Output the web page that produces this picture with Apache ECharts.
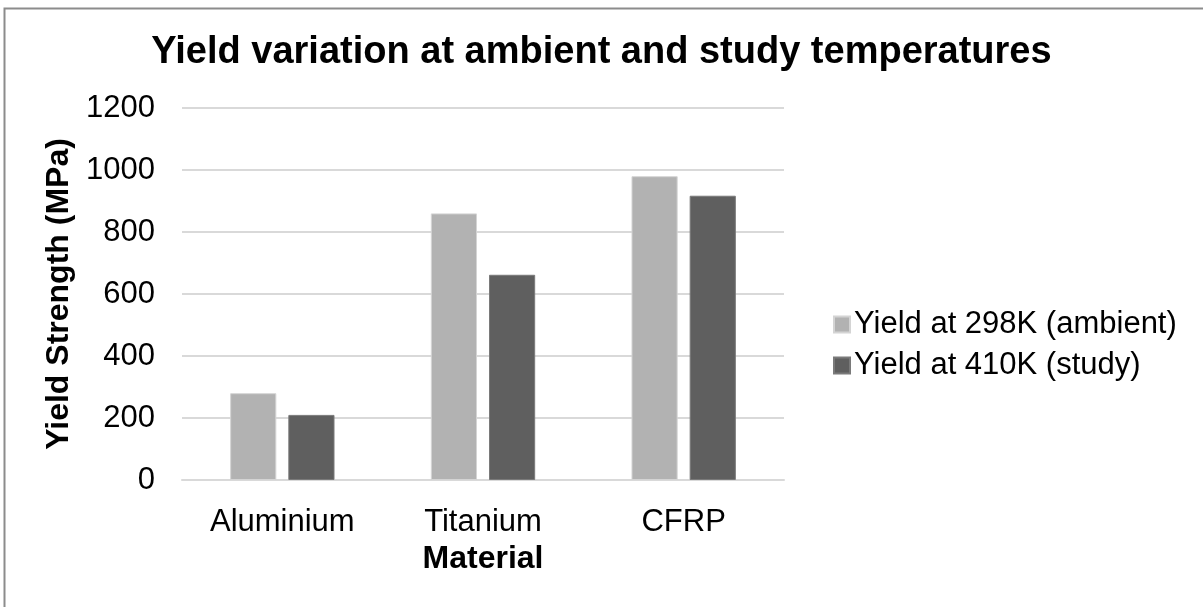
<!DOCTYPE html>
<html>
<head>
<meta charset="utf-8">
<script src="https://cdn.jsdelivr.net/npm/echarts@6/dist/echarts.min.js"></script>
<style>
  html, body { margin: 0; padding: 0; background: #fff; }
  #chart { width: 1203px; height: 607px; }
</style>
</head>
<body>
<div id="chart"></div>
<script>
// Materials on the x axis
const materials = ['Aluminium', 'Titanium', 'CFRP'];
// Yield strength (MPa) per material
const yieldAmbient = [280, 860, 980];
const yieldStudy = [210, 662, 917];
const seriesNames = ['Yield at 298K (ambient)', 'Yield at 410K (study)'];
const yTicks = { min: 0, max: 1200, interval: 200 };

const FONT = '"Liberation Sans", Arial, sans-serif';

const chart = echarts.init(document.getElementById('chart'), null, { renderer: 'canvas' });

chart.setOption({
  backgroundColor: '#ffffff',
  animation: false,
  graphic: [{
    type: 'rect',
    shape: { x: 4.5, y: 8.5, width: 1300, height: 700 },
    style: { fill: 'none', stroke: '#8c8c8c', lineWidth: 2 },
    silent: true
  }],
  title: {
    text: 'Yield variation at ambient and study temperatures',
    left: 'center',
    top: 29,
    textStyle: { fontFamily: FONT, fontSize: 38, fontWeight: 'bold', color: '#000' }
  },
  legend: {
    orient: 'vertical',
    left: 828,
    top: 304,
    itemWidth: 16,
    itemHeight: 16,
    itemGap: 10,
    icon: 'rect',
    textStyle: { fontFamily: FONT, fontSize: 31, color: '#000', padding: [0, 0, 0, -1] },
    data: seriesNames
  },
  grid: { left: 182, right: 419, top: 108, bottom: 127, containLabel: false },
  xAxis: {
    type: 'category',
    data: materials,
    name: 'Material',
    nameLocation: 'middle',
    nameGap: 63,
    nameTextStyle: { fontFamily: FONT, fontSize: 32, fontWeight: 'bold', color: '#000' },
    axisLine: { lineStyle: { color: '#d9d9d9', width: 2 } },
    axisTick: { show: false },
    axisLabel: { fontFamily: FONT, fontSize: 31, color: '#000', margin: 27 }
  },
  yAxis: {
    type: 'value',
    min: yTicks.min,
    max: yTicks.max,
    interval: yTicks.interval,
    name: 'Yield Strength (MPa)',
    nameLocation: 'middle',
    nameGap: 106,
    nameTextStyle: { fontFamily: FONT, fontSize: 32, fontWeight: 'bold', color: '#000' },
    axisLine: { show: false },
    axisTick: { show: false },
    axisLabel: {
      fontFamily: FONT, fontSize: 31, color: '#000', margin: 27,
      formatter: v => String(v)
    },
    splitLine: { lineStyle: { color: '#d9d9d9', width: 2 } }
  },
  series: [
    {
      name: seriesNames[0],
      type: 'bar',
      data: yieldAmbient,
      barGap: '26%',
      barCategoryGap: '48%',
      itemStyle: { color: '#b2b2b2', borderColor: '#d4d4d4', borderWidth: 1 }
    },
    {
      name: seriesNames[1],
      type: 'bar',
      data: yieldStudy,
      itemStyle: { color: '#5f5f5f', borderColor: '#7a7a7a', borderWidth: 1 }
    }
  ]
});
</script>
</body>
</html>
